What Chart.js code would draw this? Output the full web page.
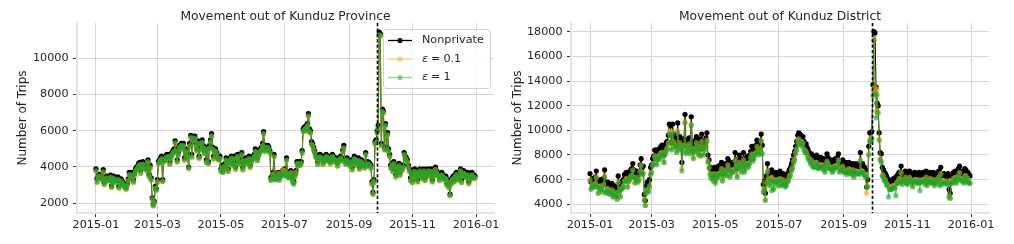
<!DOCTYPE html>
<html>
<head>
<meta charset="utf-8">
<script src="https://cdn.jsdelivr.net/npm/chart.js@4.4.1/dist/chart.umd.min.js"></script>
<style>
    html, body { margin: 0; padding: 0; background: #fff; }
    #wrap { position: relative; width: 1014px; height: 244px; overflow: hidden; }
    canvas { position: absolute; top: 0; }
</style>
</head>
<body>
<div id="wrap">
    <canvas id="province" width="507" height="244" style="left:0"></canvas>
    <canvas id="district" width="507" height="244" style="left:507px"></canvas>
</div>
<script>
// Daily series, one value per day starting 2015-01-01 (one week per line).
const firstDay = '2015-01-01';
const eventDay = '2015-09-28';
const xTickDates = ['2015-01-01', '2015-03-01', '2015-05-01', '2015-07-01', '2015-09-01', '2015-11-01', '2016-01-01'];
const xTickLabels = ['2015-01', '2015-03', '2015-05', '2015-07', '2015-09', '2015-11', '2016-01'];
const provinceYTicks = [2000, 4000, 6000, 8000, 10000];
const districtYTicks = [4000, 6000, 8000, 10000, 12000, 14000, 16000, 18000];
const seriesLabels = ['Nonprivate', 'ε = 0.1', 'ε = 1'];

const provinceNonprivate = [
    3900, 3350, 3500, 3600, 3550, 3450, 3500,
    3850, 3150, 3400, 3500, 3450, 3350, 3450,
    3550, 2950, 3300, 3500, 3400, 3300, 3350,
    3450, 2950, 3200, 3350, 3250, 3150, 3050,
    2950, 2850, 3100, 3350, 3700, 3650, 3600,
    3700, 3300, 3650, 3900, 4000, 4050, 4200,
    4250, 3800, 4100, 4300, 4200, 4100, 4000,
    3900, 4400, 3600, 4100, 3400, 2300, 1950,
    2100, 2950, 2800, 3300, 4300, 4400, 4500,
    4600, 3300, 4400, 4500, 4600, 4700, 4600,
    4700, 4300, 4600, 4800, 4900, 5000, 5450,
    5000, 4400, 4800, 5200, 5100, 5300, 5200,
    5300, 4500, 4900, 5000, 4700, 4000, 5300,
    5750, 4700, 5700, 5600, 5700, 5300, 5000,
    5450, 4600, 5100, 5400, 5500, 5200, 4900,
    5100, 4400, 5000, 4300, 5200, 5500, 5850,
    5100, 4600, 5000, 5000, 4800, 4600, 4500,
    4600, 3900, 4100, 3800, 4000, 4200, 4500,
    4400, 3900, 4300, 4500, 4600, 4300, 4200,
    4600, 4000, 4300, 4700, 4500, 4400, 4300,
    4800, 4000, 4200, 4500, 4400, 4500, 4300,
    4600, 4100, 4400, 4500, 4600, 4700, 5000,
    4900, 4500, 4700, 4900, 5000, 5100, 5300,
    5950, 5000, 5200, 5100, 5200, 5100, 4900,
    3400, 3500, 3700, 4700, 3400, 3500, 3600,
    3700, 3400, 3600, 3700, 3800, 3600, 3900,
    3700, 4500, 3600, 3500, 3700, 3800, 3500,
    3300, 3200, 3600, 3800, 4300, 4200, 4300,
    4250, 4300, 4900, 6100, 6200, 6100, 6300,
    6400, 6950, 6100, 6000, 5400, 5300, 5100,
    4900, 4700, 4600, 4300, 4500, 4700, 4650,
    4500, 4300, 4400, 4600, 4700, 4500, 4600,
    4500, 4300, 4600, 4700, 4600, 4500, 4400,
    4500, 4200, 4400, 4500, 4600, 4500, 4950,
    5200, 4400, 4300, 4500, 4400, 4300, 4200,
    4400, 4000, 4300, 4600, 4500, 4400, 4200,
    4500, 4000, 4200, 4400, 4300, 4200, 4100,
    4800, 4200, 4300, 4250, 4200, 4100, 3200,
    2600, 3300, 5400, 5500, 6000, 6300, 11450,
    11350, 5300, 7200, 7100, 5100, 6400, 5100,
    5900, 5000, 4700, 4100, 4200, 3900, 4300,
    4100, 3600, 3800, 4000, 4200, 3700, 3900,
    4000, 4100, 4800, 4600, 4500, 4400, 4100,
    3900, 3400, 3700, 3300, 3500, 3900, 3800,
    3600, 3300, 3800, 3900, 3700, 3600, 3500,
    3900, 3400, 3700, 3800, 3900, 3700, 3600,
    3900, 3300, 3600, 3800, 4000, 3800, 3700,
    3600, 3400, 3500, 3700, 3600, 3500, 3400,
    3500, 3100, 3300, 3000, 2500, 3200, 3400,
    3500, 3300, 3600, 3700, 3600, 3400, 3500,
    3900, 3300, 3700, 3800, 3700, 3600, 3500,
    3700, 3200, 3500, 3600, 3700, 3500, 3550,
    3500
];

const provinceEps01 = [
    3750, 3200, 3350, 3500, 3400, 3300, 3350,
    3700, 3000, 3250, 3400, 3300, 3200, 3300,
    3400, 2850, 3150, 3350, 3250, 3200, 3200,
    3300, 2800, 3100, 3200, 3100, 3000, 2950,
    2850, 2750, 2950, 3250, 3550, 3500, 3450,
    3550, 3200, 3500, 3750, 3850, 3900, 4050,
    4100, 3650, 3950, 4150, 4050, 3950, 3850,
    3750, 4250, 3450, 3950, 3250, 2200, 1900,
    2000, 2850, 2700, 3200, 4150, 4250, 4350,
    4450, 3200, 4250, 4350, 4450, 4550, 4450,
    4550, 4150, 4450, 4650, 4750, 4850, 5300,
    4850, 4250, 4650, 5050, 4950, 5150, 5050,
    5150, 4350, 4750, 4850, 4550, 3900, 5150,
    5600, 4550, 5550, 5450, 5550, 5150, 4850,
    5300, 4450, 4950, 5250, 5350, 5050, 4750,
    4950, 4250, 4850, 4150, 5050, 5350, 5700,
    4950, 4450, 4850, 4850, 4650, 4450, 4350,
    4450, 3800, 3950, 3700, 3850, 4050, 4350,
    4250, 3800, 4150, 4350, 4450, 4150, 4050,
    4450, 3850, 4150, 4550, 4350, 4250, 4150,
    4650, 3850, 4050, 4350, 4250, 4350, 4150,
    4450, 3950, 4250, 4350, 4450, 4550, 4850,
    4750, 4350, 4550, 4750, 4850, 4950, 5150,
    5800, 4850, 5050, 4950, 5050, 4950, 4750,
    3300, 3350, 3600, 4550, 3300, 3400, 3500,
    3650, 3300, 3500, 3600, 3850, 3550, 3800,
    3650, 4350, 3500, 3400, 3600, 3700, 3400,
    3200, 3100, 3500, 3700, 4150, 4050, 4150,
    4100, 4150, 4750, 5950, 6050, 5950, 6150,
    6250, 6800, 5950, 5850, 5250, 5150, 4950,
    4750, 4550, 4450, 4150, 4350, 4550, 4500,
    4350, 4150, 4250, 4450, 4550, 4350, 4450,
    4350, 4150, 4450, 4550, 4450, 4350, 4250,
    4350, 4050, 4250, 4350, 4450, 4350, 4800,
    5050, 4250, 4150, 4350, 4250, 4150, 4050,
    4250, 3850, 4150, 4450, 4350, 4250, 4050,
    4350, 3850, 4050, 4250, 4150, 4050, 3950,
    4650, 4050, 4150, 4100, 4050, 3950, 3100,
    2500, 3200, 5250, 5350, 5850, 6150, 11300,
    11200, 5150, 7050, 6950, 4950, 6250, 4950,
    5750, 4850, 4550, 3950, 4050, 3750, 4150,
    3950, 3450, 3650, 3850, 4050, 3550, 3750,
    3850, 3950, 4650, 4450, 4350, 4250, 3950,
    3750, 3250, 3550, 3150, 3350, 3750, 3650,
    3450, 3150, 3650, 3750, 3550, 3450, 3350,
    3750, 3250, 3550, 3650, 3750, 3550, 3450,
    3750, 3150, 3450, 3650, 3850, 3650, 3550,
    3450, 3250, 3350, 3550, 3450, 3350, 3250,
    3350, 2950, 3150, 2900, 2400, 3050, 3250,
    3350, 3150, 3450, 3550, 3450, 3250, 3350,
    3750, 3150, 3550, 3650, 3550, 3450, 3350,
    3550, 3050, 3350, 3450, 3550, 3350, 3400,
    3350
];

const provinceEps1 = [
    3800, 3150, 3400, 3450, 3450, 3350, 3300,
    3750, 3050, 3300, 3350, 3350, 3250, 3250,
    3450, 2900, 3150, 3400, 3300, 3150, 3250,
    3300, 2850, 3050, 3250, 3150, 3050, 2900,
    2900, 2800, 3000, 3200, 3600, 3500, 3500,
    3550, 3150, 3550, 3800, 3850, 3950, 4050,
    4150, 3650, 4000, 4150, 4100, 3950, 3900,
    3800, 4300, 3500, 3950, 3300, 2250, 1850,
    2050, 2800, 2750, 3150, 4200, 4250, 4400,
    4450, 3200, 4300, 4350, 4500, 4550, 4500,
    4600, 4150, 4500, 4650, 4800, 4850, 5350,
    4850, 4300, 4650, 5100, 4950, 5200, 5050,
    5200, 4400, 4750, 4900, 4600, 3950, 5150,
    5650, 4550, 5600, 5450, 5600, 5150, 4900,
    5300, 4500, 4950, 5300, 5350, 5100, 4750,
    5000, 4250, 4900, 4200, 5050, 5400, 5700,
    5000, 4450, 4900, 4850, 4700, 4450, 4400,
    4450, 3750, 4000, 3700, 3900, 4050, 4400,
    4250, 3750, 4200, 4350, 4500, 4150, 4100,
    4450, 3900, 4150, 4600, 4350, 4300, 4150,
    4700, 3850, 4100, 4350, 4300, 4350, 4200,
    4450, 4000, 4250, 4400, 4450, 4600, 4850,
    4800, 4350, 4600, 4750, 4900, 4950, 5200,
    5850, 4850, 5100, 4950, 5100, 4950, 4800,
    3250, 3400, 3550, 4600, 3300, 3350, 3500,
    3600, 3250, 3500, 3550, 3650, 3500, 3750,
    3600, 4400, 3450, 3400, 3550, 3650, 3400,
    3150, 3050, 3450, 3650, 4200, 4050, 4200,
    4100, 4200, 4800, 6000, 6050, 6000, 6150,
    6300, 6850, 5950, 5900, 5250, 5200, 4950,
    4800, 4550, 4500, 4150, 4400, 4550, 4500,
    4400, 4150, 4300, 4450, 4600, 4350, 4500,
    4350, 4200, 4450, 4600, 4450, 4400, 4250,
    4400, 4050, 4300, 4350, 4500, 4350, 4850,
    5050, 4300, 4150, 4400, 4250, 4200, 4050,
    4300, 3850, 4200, 4450, 4400, 4250, 4100,
    4350, 3900, 4050, 4300, 4150, 4100, 3950,
    4700, 4050, 4200, 4100, 4100, 3950, 3050,
    2500, 3150, 5300, 5350, 5900, 6150, 11250,
    11250, 5200, 7050, 7000, 4950, 6300, 5000,
    5800, 4850, 4600, 3950, 4100, 3750, 4200,
    3950, 3450, 3700, 3850, 4100, 3550, 3800,
    3850, 4000, 4700, 4450, 4400, 4250, 4000,
    3750, 3250, 3600, 3150, 3400, 3750, 3700,
    3450, 3200, 3650, 3800, 3550, 3500, 3350,
    3800, 3250, 3600, 3650, 3800, 3550, 3500,
    3750, 3200, 3450, 3700, 3850, 3700, 3550,
    3500, 3250, 3400, 3550, 3500, 3350, 3300,
    3350, 3000, 3150, 2850, 2450, 3050, 3300,
    3350, 3200, 3450, 3600, 3450, 3300, 3350,
    3800, 3150, 3600, 3650, 3600, 3450, 3400,
    3550, 3100, 3350, 3500, 3550, 3400, 3400,
    3400
];

const districtNonprivate = [
    6500, 5800, 6000, 6100, 5900, 6200, 6700,
    6000, 5500, 5900, 6000, 5800, 5700, 6100,
    6800, 5600, 5700, 5800, 5600, 5500, 5600,
    5700, 5200, 5400, 5500, 5300, 5100, 6300,
    5600, 5200, 5800, 5900, 6000, 6400, 6500,
    6600, 6000, 6400, 6600, 6800, 6900, 7300,
    6800, 6300, 6600, 6700, 6400, 6600, 7200,
    7700, 7000, 7100, 4800, 4300, 5500, 5800,
    5600, 6000, 7000, 7200, 7700, 7900, 8400,
    8400, 7800, 8200, 8500, 8300, 8700, 8800,
    8500, 8000, 8700, 9000, 9100, 9600, 10500,
    10400, 9000, 10500, 9700, 9200, 9400, 8800,
    10600, 9100, 9500, 9300, 7400, 9000, 9300,
    11300, 8800, 9200, 9000, 9400, 8800, 11100,
    9000, 8400, 8800, 9200, 9500, 9000, 8600,
    9300, 8500, 9700, 9100, 8700, 9000, 9400,
    9800, 8000, 7600, 7000, 6800, 6900, 6600,
    7000, 6300, 6700, 6900, 7100, 6800, 7200,
    7400, 6500, 6900, 7200, 7300, 7000, 7700,
    7500, 6800, 7100, 7300, 7400, 7200, 8200,
    7600, 6900, 7500, 8000, 7700, 7300, 7600,
    8200, 7200, 7500, 7800, 7900, 7600, 8000,
    8300, 8700, 8100, 8400, 8600, 8800, 9200,
    8900, 8600, 9100, 9700, 8800, 5600, 5900,
    4900, 6300, 7300, 6500, 6200, 6600, 6800,
    6500, 5900, 6300, 6600, 6400, 6200, 6500,
    6700, 6100, 6300, 6500, 6400, 6000, 6200,
    6400, 6600, 6800, 7000, 7300, 7600, 8000,
    8300, 8700, 9100, 9600, 9800, 9700, 9600,
    9400, 9500, 9100, 8800, 8900, 8600, 8400,
    8200, 8000, 8100, 7800, 7600, 7700, 7900,
    8000, 7500, 7600, 7700, 7800, 7600, 7500,
    7700, 7300, 7500, 8100, 7800, 7600, 7500,
    7600, 7200, 7400, 7600, 7700, 7500, 7800,
    8100, 7300, 7400, 7500, 7600, 7300, 7200,
    7400, 7000, 7300, 7400, 7200, 7300, 7100,
    7300, 6900, 7200, 7300, 7100, 7200, 7000,
    8200, 7200, 7300, 7100, 7000, 6800, 5400,
    6000, 8700, 9800, 9800, 9900, 13700, 18000,
    17900, 13500, 12200, 12000, 9800, 8200, 8100,
    7000, 6800, 6600, 6500, 6300, 6100, 6000,
    5900, 5800, 5900, 6000, 6100, 5900, 6200,
    6300, 6400, 6600, 6500, 7100, 6300, 6500,
    6600, 6700, 6400, 6200, 6500, 6700, 6600,
    6300, 6100, 6400, 6600, 6500, 6400, 6300,
    6600, 6200, 6500, 6400, 6600, 6500, 6300,
    6700, 6200, 6400, 6500, 6600, 6400, 6300,
    6600, 6100, 6400, 6500, 6500, 6700, 6200,
    7000, 6300, 6400, 6500, 6300, 6400, 6200,
    6500, 5200, 4900, 6300, 6400, 6600, 6500,
    6700, 6400, 6600, 6900, 7100, 6700, 6500,
    6600, 6300, 6900, 6800, 6500, 6600, 6400,
    6300
];

const districtEps01 = [
    6000, 5300, 5500, 5600, 5400, 5700, 6200,
    5500, 4900, 5400, 5500, 5200, 5100, 5600,
    6300, 5000, 5100, 5300, 5000, 4900, 5000,
    5200, 4600, 4800, 5000, 4700, 4500, 5800,
    5000, 4700, 5300, 5300, 5500, 5900, 5900,
    6100, 5400, 5900, 6000, 6300, 6300, 6800,
    6200, 5800, 6000, 6200, 5800, 6000, 6700,
    7200, 6400, 6600, 4400, 3900, 5000, 5200,
    5100, 5500, 6500, 6600, 7200, 7300, 7900,
    7800, 7300, 7600, 8000, 7700, 8200, 8200,
    8000, 7400, 8200, 8400, 8600, 9000, 9900,
    9800, 8500, 9900, 9100, 8700, 8800, 8300,
    10000, 8500, 9000, 8700, 6900, 8400, 8800,
    10700, 8200, 8700, 8400, 8900, 8200, 10500,
    8500, 7800, 8300, 8600, 9000, 8400, 8100,
    8700, 8000, 9100, 8600, 8100, 8500, 8800,
    9200, 7500, 7000, 6500, 6200, 6400, 6000,
    6500, 5800, 6100, 6400, 6500, 6300, 6600,
    6900, 5900, 6400, 6600, 6800, 6400, 7200,
    6900, 6300, 6500, 6800, 6800, 6700, 7600,
    7100, 6300, 7000, 7400, 7200, 6700, 7100,
    7600, 6700, 6900, 7300, 7300, 7100, 7400,
    7800, 8100, 7600, 7800, 8100, 8200, 8700,
    8300, 8100, 8500, 9200, 8200, 5100, 5300,
    4400, 5800, 6700, 6000, 5600, 6100, 6200,
    6000, 5300, 5800, 6000, 5900, 5600, 6000,
    6100, 5600, 5700, 6000, 5800, 5500, 5600,
    5900, 6000, 6300, 6400, 6800, 7000, 7500,
    7700, 8200, 8500, 9100, 9300, 9100, 9100,
    8800, 9000, 8500, 8300, 8300, 8100, 7800,
    7700, 7400, 7600, 7200, 7100, 7100, 7400,
    7400, 7000, 7000, 7200, 7200, 7100, 6900,
    7200, 6700, 7000, 7500, 7300, 7000, 7000,
    7000, 6700, 6800, 7100, 7100, 7000, 7200,
    7600, 6700, 6900, 6900, 7100, 6700, 6700,
    6800, 6500, 6700, 6900, 6600, 6800, 6500,
    6800, 6300, 6700, 6700, 6600, 6600, 6500,
    7600, 6700, 6700, 6600, 6400, 6300, 4900,
    5500, 8100, 9300, 9200, 9400, 13200, 17500,
    13500, 11500, 13300, 11500, 9300, 7700, 7500,
    6400, 6300, 6000, 6000, 5700, 5600, 5400,
    5300, 5300, 5300, 5500, 5500, 5400, 5600,
    5800, 5800, 6100, 5900, 6600, 5700, 6000,
    6000, 6200, 5800, 5700, 5900, 6200, 6000,
    5800, 5500, 5900, 6000, 6000, 5800, 5800,
    6000, 5700, 5900, 5900, 6000, 6000, 5700,
    6200, 5600, 5900, 5900, 6100, 5800, 5800,
    6000, 5600, 5800, 6000, 5900, 6200, 5600,
    6500, 5700, 5900, 5900, 5800, 5800, 5700,
    5900, 4700, 4500, 5800, 5800, 6100, 5900,
    6200, 5800, 6100, 6300, 6600, 6100, 6000,
    6000, 5800, 6300, 6300, 5900, 6100, 5800,
    5800
];

const districtEps1 = [
    5900, 5200, 5400, 5500, 5400, 5600, 6100,
    5400, 4900, 5300, 5400, 5200, 5000, 5500,
    6200, 4900, 5100, 5200, 4900, 4800, 5000,
    5100, 4600, 4700, 4900, 4700, 4400, 5700,
    5000, 4600, 5200, 5300, 5400, 5800, 5900,
    6000, 5400, 5800, 6000, 6200, 6300, 6700,
    6200, 5700, 6000, 6100, 5800, 6000, 6600,
    7100, 6400, 6500, 4300, 3900, 4900, 5200,
    5000, 5400, 6400, 6600, 7100, 7300, 7800,
    7700, 7200, 7600, 7900, 7700, 8100, 8100,
    7900, 7400, 8100, 8300, 8500, 8900, 9700,
    9600, 8400, 9700, 9000, 8600, 8700, 8200,
    9800, 8400, 8900, 8600, 6700, 8300, 8700,
    10600, 8100, 8600, 8300, 8800, 8100, 10400,
    8400, 7700, 8200, 8500, 8900, 8300, 8000,
    8600, 7900, 9000, 8500, 8000, 8400, 8700,
    9100, 7400, 6900, 6400, 6100, 6300, 5900,
    6400, 5700, 6000, 6300, 6400, 6200, 6500,
    6800, 5900, 6300, 6500, 6700, 6300, 7100,
    6800, 6200, 6500, 6700, 6700, 6600, 7500,
    7000, 6200, 6900, 7300, 7100, 6600, 7000,
    7500, 6600, 6900, 7200, 7200, 7000, 7300,
    7700, 8000, 7500, 7700, 8000, 8100, 8600,
    8200, 8000, 8400, 9100, 8100, 5000, 5200,
    4300, 5700, 6600, 5900, 5500, 6000, 5100,
    5900, 5200, 5700, 5900, 5800, 5500, 5900,
    6000, 5500, 5600, 5900, 5700, 5400, 5500,
    5800, 5900, 6200, 6300, 6700, 6900, 7300,
    7600, 8100, 8400, 8800, 9200, 9000, 8900,
    8700, 8900, 8400, 8200, 8200, 8000, 7700,
    7600, 7300, 7500, 7100, 7000, 7000, 7300,
    7300, 6900, 6900, 7100, 7100, 7000, 6800,
    7100, 6600, 6900, 7400, 7200, 6900, 6900,
    6900, 6600, 6700, 7000, 7000, 6900, 7100,
    7500, 6600, 6800, 6800, 7000, 6600, 6600,
    6700, 6400, 6600, 6800, 6500, 6700, 6400,
    6700, 6200, 6600, 6600, 6500, 6500, 6400,
    7500, 6600, 6600, 6500, 6300, 6200, 5400,
    5400, 8000, 9100, 9100, 9300, 12800, 17300,
    13000, 11000, 12900, 11400, 9200, 7600, 7400,
    6300, 6200, 5900, 5900, 5600, 5500, 4600,
    5200, 5200, 5200, 5400, 5400, 5300, 4700,
    5700, 5700, 6000, 5800, 6500, 5600, 5900,
    5900, 6100, 5700, 5600, 5800, 6100, 5900,
    5700, 5400, 5800, 5900, 5900, 5700, 5700,
    5900, 5100, 5800, 5800, 5900, 5900, 5600,
    6100, 5500, 5800, 5800, 6000, 5700, 5700,
    5900, 5500, 5700, 5900, 5800, 6100, 5500,
    6400, 5600, 5800, 5800, 5700, 5700, 5600,
    5800, 4600, 4500, 5700, 5700, 6000, 5800,
    6100, 5700, 6000, 6200, 6500, 6000, 5900,
    5900, 5700, 6200, 6200, 5800, 6000, 5700,
    5700
];

const FONT = 'DejaVu Sans';
const TEXT = '#262626';
const GRID = '#d5d5d5';
const SPINE = '#e3e3e3';
const COLORS = ['#000000', 'rgba(255,160,0,0.6)', 'rgba(25,165,45,0.62)'];

function dayOf(iso) {
    const p = iso.split('-').map(Number);
    const base = firstDay.split('-').map(Number);
    return (Date.UTC(p[0], p[1] - 1, p[2]) - Date.UTC(base[0], base[1] - 1, base[2])) / 86400000;
}

const xTickDays = xTickDates.map(dayOf);
// matplotlib-style 5% margins around the first and last day
const lastDay = provinceNonprivate.length - 1;
const xMin = -lastDay * 0.05;
const xMax = lastDay * 1.05;

function toPoints(values) {
    return values.map(function (v, i) {
        return { x: i, y: v };
    });
}

function makeDataset(label, values, color, order) {
    return {
        label: label,
        data: toPoints(values),
        borderColor: color,
        backgroundColor: color,
        borderWidth: 1,
        pointRadius: 2.6,
        pointBorderWidth: 0,
        pointBackgroundColor: color,
        tension: 0,
        order: order,
    };
}

// title centred over the plot area like matplotlib's ax.set_title
const titlePlugin = {
    id: 'axTitle',
    afterDraw: function (chart, args, opts) {
        const ctx = chart.ctx;
        const a = chart.chartArea;
        ctx.save();
        ctx.font = '12.3px "' + FONT + '"';
        ctx.fillStyle = TEXT;
        ctx.textAlign = 'center';
        ctx.textBaseline = 'alphabetic';
        ctx.fillText(opts.text, (a.left + a.right) / 2, 19.5);
        ctx.restore();
    },
};

const eventLinePlugin = {
    id: 'eventLine',
    afterDatasetsDraw: function (chart) {
        const ctx = chart.ctx;
        const a = chart.chartArea;
        const x = Math.round(chart.scales.x.getPixelForValue(dayOf(eventDay))) + 0.5;
        ctx.save();
        ctx.strokeStyle = '#000';
        ctx.lineWidth = 1.6;
        ctx.setLineDash([3.2, 2.2]);
        ctx.beginPath();
        ctx.moveTo(x, a.top);
        ctx.lineTo(x, a.bottom);
        ctx.stroke();
        ctx.restore();
    },
};

// legend box in the upper right of the plot, ε drawn in italics like mathtext
const legendPlugin = {
    id: 'boxLegend',
    afterDraw: function (chart, args, opts) {
        if (!opts.show) return;
        const ctx = chart.ctx;
        const a = chart.chartArea;
        const w = 107, h = 59;
        const x0 = a.right - 4 - w, y0 = a.top + 6;
        ctx.save();
        ctx.beginPath();
        ctx.roundRect(x0 + 0.5, y0 + 0.5, w, h, 3);
        ctx.fillStyle = 'rgba(255,255,255,0.8)';
        ctx.fill();
        ctx.strokeStyle = '#d0d0d0';
        ctx.lineWidth = 1;
        ctx.stroke();
        const rows = [y0 + 11.5, y0 + 30, y0 + 48.5];
        const legendColors = ['#000000', 'rgba(255,165,0,0.5)', 'rgba(30,175,60,0.5)'];
        chart.data.datasets.forEach(function (ds, i) {
            const y = rows[i];
            ctx.strokeStyle = legendColors[i];
            ctx.lineWidth = 1.3;
            ctx.beginPath();
            ctx.moveTo(x0 + 5, y);
            ctx.lineTo(x0 + 29, y);
            ctx.stroke();
            ctx.fillStyle = legendColors[i];
            ctx.beginPath();
            ctx.arc(x0 + 17, y, 2.6, 0, Math.PI * 2);
            ctx.fill();
            ctx.fillStyle = TEXT;
            ctx.textBaseline = 'middle';
            ctx.textAlign = 'left';
            const tx = x0 + 39;
            const label = ds.label;
            if (label.charAt(0) === 'ε') {
                ctx.font = 'italic 11.2px "' + FONT + '"';
                ctx.fillText('ε', tx, y);
                let cx = tx + ctx.measureText('ε').width + 3;
                ctx.font = '11.2px "' + FONT + '"';
                ctx.fillText('=', cx, y);
                cx += ctx.measureText('=').width + 3;
                ctx.fillText(label.split('= ')[1], cx, y);
            } else {
                ctx.font = '11.2px "' + FONT + '"';
                ctx.fillText(label, tx, y);
            }
        });
        ctx.restore();
    },
};

function makeChart(canvasId, cfg) {
    const ctx = document.getElementById(canvasId);
    const tickFont = { family: FONT, size: 11.2 };
    return new Chart(ctx, {
        type: 'line',
        data: {
            datasets: [
                makeDataset(seriesLabels[0], cfg.series[0], COLORS[0], 3),
                makeDataset(seriesLabels[1], cfg.series[1], COLORS[1], 2),
                makeDataset(seriesLabels[2], cfg.series[2], COLORS[2], 1),
            ],
        },
        plugins: [titlePlugin, eventLinePlugin, legendPlugin],
        options: {
            responsive: false,
            animation: false,
            events: [],
            layout: { padding: { left: 0, right: cfg.padRight, top: 23, bottom: 0 } },
            plugins: {
                legend: { display: false },
                tooltip: { enabled: false },
                axTitle: { text: cfg.title },
                boxLegend: { show: cfg.legend },
            },
            scales: {
                x: {
                    type: 'linear',
                    min: xMin,
                    max: xMax,
                    afterBuildTicks: function (scale) {
                        scale.ticks = xTickDays.map(function (d) {
                            return { value: d };
                        });
                    },
                    afterFit: function (scale) {
                        scale.height = 31;
                    },
                    ticks: {
                        autoSkip: false,
                        maxRotation: 0,
                        padding: 1.5,
                        color: TEXT,
                        font: tickFont,
                        callback: function (value, index) {
                            return xTickLabels[index];
                        },
                    },
                    grid: { color: GRID, lineWidth: 1, tickLength: 4, tickColor: '#333', tickWidth: 1 },
                    border: { display: true, color: SPINE, width: 2 },
                },
                y: {
                    type: 'linear',
                    min: cfg.yMin,
                    max: cfg.yMax,
                    afterBuildTicks: function (scale) {
                        scale.ticks = cfg.yTicks.map(function (v) {
                            return { value: v };
                        });
                    },
                    afterFit: function (scale) {
                        scale.width = cfg.axisWidth;
                    },
                    ticks: {
                        padding: 4.5,
                        color: TEXT,
                        font: tickFont,
                        callback: function (value) {
                            return String(value);
                        },
                    },
                    grid: { color: GRID, lineWidth: 1, tickLength: 4, tickColor: '#333', tickWidth: 1 },
                    border: { display: true, color: SPINE, width: 2 },
                    title: {
                        display: true,
                        text: 'Number of Trips',
                        color: TEXT,
                        font: { family: FONT, size: 12 },
                        padding: { top: cfg.labelPad, bottom: 0 },
                    },
                },
            },
        },
    });
}

makeChart('province', {
    title: 'Movement out of Kunduz Province',
    series: [provinceNonprivate, provinceEps01, provinceEps1],
    yMin: 1460,
    yMax: 11950,
    yTicks: provinceYTicks,
    axisWidth: 77,
    padRight: 13,
    labelPad: 15.8,
    legend: true,
});

makeChart('district', {
    title: 'Movement out of Kunduz District',
    series: [districtNonprivate, districtEps01, districtEps1],
    yMin: 3295,
    yMax: 18705,
    yTicks: districtYTicks,
    axisWidth: 64,
    padRight: 25,
    labelPad: 3.8,
    legend: false,
});
</script>
</body>
</html>
